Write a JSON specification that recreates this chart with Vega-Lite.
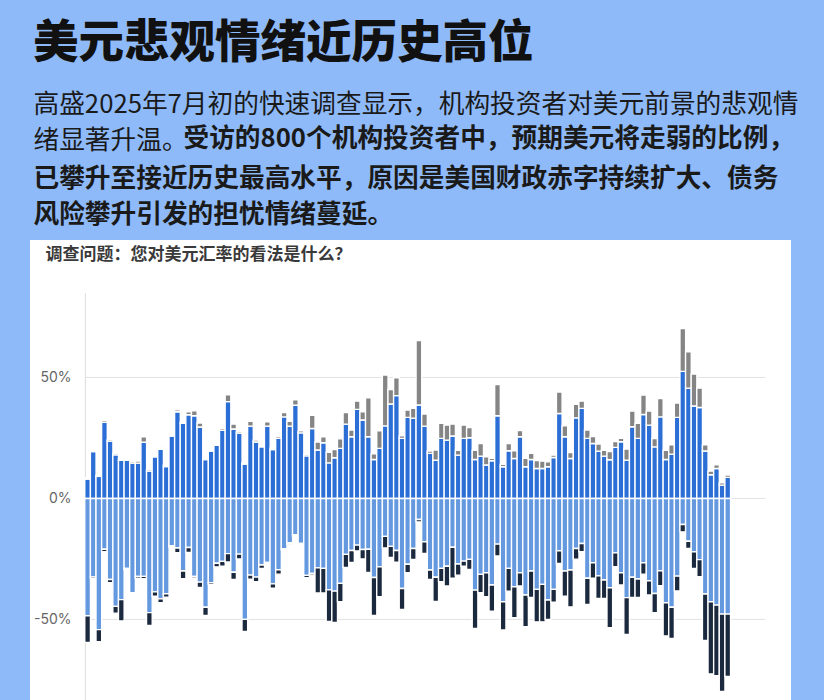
{
  "$schema": "https://vega.github.io/schema/vega-lite/v6.json",
  "width": 761,
  "height": 460,
  "autosize": "none",
  "padding": {"left": 30, "top": 240, "right": 33, "bottom": 0},
  "background": "#8fbaf9",
  "config": {
    "view": {"fill": "white", "stroke": null},
    "font": "Noto Sans CJK SC"
  },
  "title": {
    "text": "美元悲观情绪近历史高位",
    "anchor": "start",
    "frame": "group",
    "font": "Noto Sans CJK SC",
    "fontSize": 45.5,
    "fontWeight": 900,
    "color": "#111111",
    "dx": 3,
    "offset": 24
  },
  "data": {
    "values": [
      {"期":1,"走强":8,"明显走强":0.6,"走弱":-48.5,"明显走弱":-11},
      {"期":2,"走强":19.4,"明显走强":0.6,"走弱":-32.4,"明显走弱":-0.7},
      {"期":3,"走强":9.1,"明显走强":0.5,"走弱":-54.2,"明显走弱":-5},
      {"期":4,"走强":31.5,"明显走强":0.8,"走弱":-21,"明显走弱":-1},
      {"期":5,"走强":23.7,"明显走强":0.6,"走弱":-33.5,"明显走弱":-1.3},
      {"期":6,"走强":18,"明显走强":0.6,"走弱":-44.6,"明显走弱":-2.8},
      {"期":7,"走强":15.8,"明显走强":0.6,"走弱":-41.8,"明显走弱":-8.8},
      {"期":8,"走强":15.8,"明显走强":0.5,"走弱":-28.9,"明显走弱":-0.6},
      {"期":9,"走强":14.6,"明显走强":0.6,"走弱":-39,"明显走弱":-0.6},
      {"期":10,"走强":14.6,"明显走强":0.8,"走弱":-32.2,"明显走弱":-0.8},
      {"期":11,"走强":23.2,"明显走强":2.3,"走弱":-32.2,"明显走弱":-1},
      {"期":12,"走强":11.3,"明显走强":0.6,"走弱":-47.2,"明显走弱":-5.3},
      {"期":13,"走强":17.2,"明显走强":0.6,"走弱":-38.6,"明显走弱":-1.8},
      {"期":14,"走强":20.3,"明显走强":0.6,"走弱":-41.5,"明显走弱":-1.6},
      {"期":15,"走强":13.2,"明显走强":0.6,"走弱":-39.4,"明显走弱":-1.4},
      {"期":16,"走强":25.8,"明显走强":0.5,"走弱":-19.5,"明显走弱":-0.6},
      {"期":17,"走强":35.8,"明显走强":0.8,"走弱":-20.5,"明显走弱":-1.9},
      {"期":18,"走强":31,"明显走强":0.6,"走弱":-30,"明显走弱":-3.2},
      {"期":19,"走强":34.6,"明显走强":1.2,"走弱":-20.3,"明显走弱":-2},
      {"期":20,"走强":34.2,"明显走强":2,"走弱":-32.2,"明显走弱":-0.7},
      {"期":21,"走强":29.5,"明显走强":1.7,"走弱":-34.6,"明显走弱":-2.2},
      {"期":22,"走强":16.1,"明显走强":0.6,"走弱":-45,"明显走弱":-3.4},
      {"期":23,"走强":19.6,"明显走强":0.6,"走弱":-34.8,"明显走弱":-0.7},
      {"期":24,"走强":22,"明显走强":0.6,"走弱":-26.8,"明显走弱":-1.5},
      {"期":25,"走强":28.2,"明显走强":0.8,"走弱":-26,"明显走弱":-2},
      {"期":26,"走强":40,"明显走强":2.8,"走弱":-22.8,"明显走弱":-3.5},
      {"期":27,"走强":28.7,"明显走强":2,"走弱":-30.5,"明显走弱":-3},
      {"期":28,"走强":27,"明显走强":0.6,"走弱":-23,"明显走弱":-2},
      {"期":29,"走强":14.2,"明显走强":0.5,"走弱":-50,"明显走弱":-5},
      {"期":30,"走强":29.9,"明显走强":2,"走弱":-31.7,"明显走弱":-1.7},
      {"期":31,"走强":23.3,"明显走强":0.8,"走弱":-32.5,"明显走弱":-1.9},
      {"期":32,"走强":21.3,"明显走强":0.6,"走弱":-27.5,"明显走弱":-1.4},
      {"期":33,"走强":29.9,"明显走强":1.8,"走弱":-26.5,"明显走弱":-0.6},
      {"期":34,"走强":20.2,"明显走强":0.6,"走弱":-35.3,"明显走弱":-1.8},
      {"期":35,"走强":24.8,"明显走强":0.8,"走弱":-29.5,"明显走弱":-1.8},
      {"期":36,"走强":33.7,"明显走强":1.8,"走弱":-20.8,"明显走弱":-0.6},
      {"期":37,"走强":29.9,"明显走强":2,"走弱":-18.3,"明显走弱":-0.6},
      {"期":38,"走强":38.5,"明显走强":2.3,"走弱":-15,"明显走弱":-0.6},
      {"期":39,"走强":27.1,"明显走强":0.8,"走弱":-18.6,"明显走弱":-0.6},
      {"期":40,"走强":17.6,"明显走强":0.6,"走弱":-31.8,"明显走弱":-1},
      {"期":41,"走强":28.9,"明显走强":5.5,"走弱":-31,"明显走弱":-0.7},
      {"期":42,"走强":20,"明显走强":3.3,"走弱":-28.7,"明显走弱":-10.4},
      {"期":43,"走强":23,"明显走强":2.5,"走弱":-28.9,"明显走弱":-10.2},
      {"期":44,"走强":14.7,"明显走强":4.4,"走弱":-37.8,"明显走弱":-13},
      {"期":45,"走强":16.8,"明显走强":3.4,"走弱":-38.3,"明显走弱":-13},
      {"期":46,"走强":20.7,"明显走强":3.9,"走弱":-35.1,"明显走弱":-7.6},
      {"期":47,"走强":30.7,"明显走强":4.8,"走弱":-23.1,"明显走弱":-5.4},
      {"期":48,"走强":25.5,"明显走强":2.8,"走弱":-21.5,"明显走弱":-5},
      {"期":49,"走强":36.8,"明显走强":3.4,"走弱":-19.3,"明显走弱":-2.4},
      {"期":50,"走强":32.4,"明显走强":3.4,"走弱":-21.1,"明显走弱":-3.9},
      {"期":51,"走强":25.5,"明显走强":16.1,"走弱":-21,"明显走弱":-9.6},
      {"期":52,"走强":16.1,"明显走强":2.3,"走弱":-32.7,"明显走弱":-15.7},
      {"期":53,"走强":20.7,"明显走强":7.3,"走弱":-28.3,"明显走弱":-12.3},
      {"期":54,"走强":30,"明显走强":21,"走弱":-15.7,"明显走弱":-4.8},
      {"期":55,"走强":39,"明显走强":6,"走弱":-19.8,"明显走弱":-4.6},
      {"期":56,"走强":42.5,"明显走强":7.4,"走弱":-21.5,"明显走弱":-4.9},
      {"期":57,"走强":24.8,"明显走强":1.1,"走弱":-37.2,"明显走弱":-8.7},
      {"期":58,"走强":33.5,"明显走强":3,"走弱":-27.2,"明显走弱":-3.5},
      {"期":59,"走强":33.2,"明显走强":4,"走弱":-20.7,"明显走弱":-4.5},
      {"期":60,"走强":38.6,"明显走强":26.6,"走弱":-8.7,"明显走弱":-1},
      {"期":61,"走强":29.9,"明显走强":5,"走弱":-17.9,"明显走弱":-4.8},
      {"期":62,"走强":18.6,"明显走强":1,"走弱":-29.6,"明显走弱":-3.9},
      {"期":63,"走强":15.8,"明显走强":4.2,"走弱":-32.6,"明显走弱":-10},
      {"期":64,"走强":24.8,"明显走强":6.2,"走弱":-28.9,"明显走弱":-5.5},
      {"期":65,"走强":24.1,"明显走强":6.2,"走弱":-28,"明显走弱":-8.2},
      {"期":66,"走强":25.8,"明显走强":4.9,"走弱":-20.2,"明显走弱":-12.8},
      {"期":67,"走强":17.9,"明显走强":2,"走弱":-27.1,"明显走弱":-4.6},
      {"期":68,"走强":24.8,"明显走强":5.5,"走弱":-25.9,"明显走弱":-2.1},
      {"期":69,"走强":25.1,"明显走强":4.2,"走弱":-25.2,"明显走弱":-4.1},
      {"期":70,"走强":16.1,"明显走强":3.8,"走弱":-37.9,"明显走弱":-15.8},
      {"期":71,"走强":17.5,"明显走强":5.2,"走弱":-31.4,"明显走弱":-7.6},
      {"期":72,"走强":13.8,"明显走强":3.4,"走弱":-30.7,"明显走弱":-9.9},
      {"期":73,"走强":15.6,"明显走强":1,"走弱":-35.8,"明显走弱":-10.8},
      {"期":74,"走强":34.2,"明显走强":12.9,"走弱":-18.9,"明显走弱":-4.9},
      {"期":75,"走强":13.1,"明显走强":1,"走弱":-42.7,"明显走弱":-11.7},
      {"期":76,"走强":19.7,"明显走强":3,"走弱":-28.9,"明显走弱":-9.4},
      {"期":77,"走强":16.5,"明显走强":3.2,"走弱":-36.5,"明显走弱":-12.8},
      {"期":78,"走强":25.5,"明显走强":2.6,"走弱":-30.7,"明显走弱":-5.5},
      {"期":79,"走强":13.1,"明显走强":3.5,"走弱":-39.9,"明显走弱":-13.1},
      {"期":80,"走强":16.1,"明显走强":2.5,"走弱":-30,"明显走弱":-10.9},
      {"期":81,"走强":12.4,"明显走强":3.3,"走弱":-37.6,"明显走弱":-13.4},
      {"期":82,"走强":12.4,"明显走强":3,"走弱":-35.5,"明显走弱":-15.5},
      {"期":83,"走强":13.1,"明显走强":2,"走弱":-42,"明显走弱":-8},
      {"期":84,"走强":16.9,"明显走强":1,"走弱":-37.6,"明显走弱":-5.3},
      {"期":85,"走强":35.1,"明显走强":8.9,"走弱":-21.6,"明显走弱":-5.3},
      {"期":86,"走强":25.5,"明显走强":4.5,"走弱":-30,"明显走弱":-10.4},
      {"期":87,"走强":16.5,"明显走强":2.5,"走弱":-29.6,"明显走弱":-15.2},
      {"期":88,"走强":33.3,"明显走强":5.6,"走弱":-20.7,"明显走弱":-4.4},
      {"期":89,"走强":37.2,"明显走强":3,"走弱":-18.6,"明显走弱":-3.4},
      {"期":90,"走强":24.8,"明显走强":3.5,"走弱":-33,"明显走弱":-10.8},
      {"期":91,"走强":22.7,"明显走强":2.9,"走弱":-26.6,"明显走弱":-6.4},
      {"期":92,"走强":19.5,"明显走强":3,"走弱":-32,"明显走弱":-9.3},
      {"期":93,"走强":17.5,"明显走强":2.4,"走弱":-33.7,"明显走弱":-7.6},
      {"期":94,"走强":16,"明显走强":3.4,"走弱":-36.9,"明显走弱":-16.5},
      {"期":95,"走强":21.1,"明显走强":2.4,"走弱":-22.5,"明显走弱":-5.7},
      {"期":96,"走强":23.4,"明显走强":1.5,"走弱":-30.7,"明显走弱":-5.1},
      {"期":97,"走强":15.8,"明显走强":4.6,"走弱":-41,"明显走弱":-15.2},
      {"期":98,"走强":29.6,"明显走强":6.5,"走弱":-32.6,"明显走弱":-8.3},
      {"期":99,"走强":24.8,"明显走强":6.2,"走弱":-33.3,"明显走弱":-7.6},
      {"期":100,"走强":34.7,"明显走强":8,"走弱":-26.6,"明显走弱":-4.7},
      {"期":101,"走强":30.3,"明显走强":5.8,"走弱":-34,"明显走弱":-5.9},
      {"期":102,"走强":21.3,"明显走强":3.4,"走弱":-39.3,"明显走弱":-7.9},
      {"期":103,"走强":33.7,"明显走强":7.6,"走弱":-29.9,"明显走弱":-6.2},
      {"期":104,"走强":16.1,"明显走强":3.8,"走弱":-43.1,"明显走弱":-13.7},
      {"期":105,"走强":18.3,"明显走强":3.9,"走弱":-45,"明显走弱":-12.9},
      {"期":106,"走强":33.5,"明显走强":5.9,"走弱":-32.1,"明显走弱":-6.1},
      {"期":107,"走强":52.5,"明显走强":17.7,"走弱":-10.8,"明显走弱":-3},
      {"期":108,"走强":45.6,"明显走强":15,"走弱":-17.7,"明显走弱":-3},
      {"期":109,"走强":38.2,"明显走强":13.2,"走弱":-22.1,"明显走弱":-6.8},
      {"期":110,"走强":37.6,"明显走强":8,"走弱":-25.3,"明显走弱":-7},
      {"期":111,"走强":19.6,"明显走强":2.6,"走弱":-39.5,"明显走弱":-19.2},
      {"期":112,"走强":9.8,"明显走强":1.5,"走弱":-42.7,"明显走弱":-29.8},
      {"期":113,"走强":12.4,"明显走强":1.5,"走弱":-44.1,"明显走弱":-29.2},
      {"期":114,"走强":5.5,"明显走强":1,"走弱":-47.8,"明显走弱":-32},
      {"期":115,"走强":8.7,"明显走强":1,"走弱":-47.8,"明显走弱":-25.8}
    ]
  },
  "resolve": {"axis": {"x": "independent", "y": "independent"}},
  "layer": [
    {
      "data": {"values": [{"v": 50}, {"v": 0}, {"v": -50}]},
      "mark": {"type": "rule", "color": "#e2e2e2", "strokeWidth": 1},
      "encoding": {
        "x": {
          "datum": 0.6,
          "type": "quantitative",
          "scale": {"domain": [-8.37, 125.38], "nice": false, "zero": false},
          "axis": {
            "orient": "bottom",
            "labels": false,
            "ticks": false,
            "domain": false,
            "grid": false,
            "title": ["已攀升至接近历史最高水平，原因是美国财政赤字持续扩大、债务", "风险攀升引发的担忧情绪蔓延。"],
            "titleFont": "Noto Sans CJK SC",
            "titleFontSize": 25.7,
            "titleFontWeight": "bold",
            "titleColor": "#1a1a1a",
            "titleLineHeight": 36.5,
            "titleAngle": 0,
            "titleAlign": "left",
            "titleBaseline": "middle",
            "titleX": 3,
            "titleY": -522
          }
        },
        "x2": {"datum": 121.7},
        "y": {
          "field": "v",
          "type": "quantitative",
          "scale": {"domain": [-83.3, 106.8], "nice": false},
          "axis": null
        }
      }
    },
    {
      "data": {"values": [{"top": 84.8, "bottom": -83.3}]},
      "mark": {"type": "rule", "color": "#dddddd", "strokeWidth": 1},
      "encoding": {
        "x": {"datum": 0.6, "type": "quantitative", "axis": null},
        "y": {
          "field": "top",
          "type": "quantitative",
          "axis": {
            "orient": "right",
            "labels": false,
            "ticks": false,
            "domain": false,
            "grid": false,
            "title": ["高盛2025年7月初的快速调查显示，机构投资者对美元前景的悲观情", "绪显著升温。"],
            "titleFont": "Noto Sans CJK SC",
            "titleFontSize": 25.7,
            "titleFontWeight": "normal",
            "titleColor": "#1a1a1a",
            "titleLineHeight": 36.5,
            "titleAngle": 0,
            "titleAlign": "left",
            "titleBaseline": "middle",
            "titleX": -758,
            "titleY": -136
          }
        },
        "y2": {"field": "bottom"}
      }
    },
    {
      "transform": [
        {"fold": ["走强", "明显走强", "走弱", "明显走弱"], "as": ["类别", "比例"]}
      ],
      "mark": {"type": "bar", "orient": "vertical", "width": 5.69, "stroke": "white", "strokeWidth": 1.4},
      "encoding": {
        "x": {
          "field": "期",
          "type": "quantitative",
          "axis": {
            "orient": "top",
            "labels": false,
            "ticks": false,
            "domain": false,
            "grid": false,
            "title": "受访的800个机构投资者中，预期美元将走弱的比例，",
            "titleFont": "Noto Sans CJK SC",
            "titleFontSize": 25.7,
            "titleFontWeight": "bold",
            "titleColor": "#1a1a1a",
            "titleAngle": 0,
            "titleAlign": "left",
            "titleBaseline": "middle",
            "titleX": 153,
            "titleY": -102
          }
        },
        "y": {
          "field": "比例",
          "type": "quantitative",
          "stack": "zero",
          "axis": {
            "orient": "left",
            "values": [-50, 0, 50],
            "grid": false,
            "domain": false,
            "ticks": false,
            "offset": -51,
            "labelPadding": 10,
            "labelExpr": "datum.value + '%'",
            "labelFont": "Inter",
            "labelFontSize": 14,
            "labelColor": "#666666",
            "title": "调查问题：您对美元汇率的看法是什么？",
            "titleFont": "Noto Sans CJK SC",
            "titleFontSize": 17,
            "titleFontWeight": "bold",
            "titleColor": "#3a3a3a",
            "titleAngle": 0,
            "titleAlign": "left",
            "titleBaseline": "middle",
            "titleX": -36,
            "titleY": 14
          }
        },
        "color": {
          "field": "类别",
          "type": "nominal",
          "scale": {
            "domain": ["走强", "明显走强", "走弱", "明显走弱"],
            "range": ["#2b6fd6", "#858585", "#6499e0", "#1b293e"]
          },
          "legend": null
        },
        "order": {"field": "类别", "sort": "descending"}
      }
    }
  ]
}
